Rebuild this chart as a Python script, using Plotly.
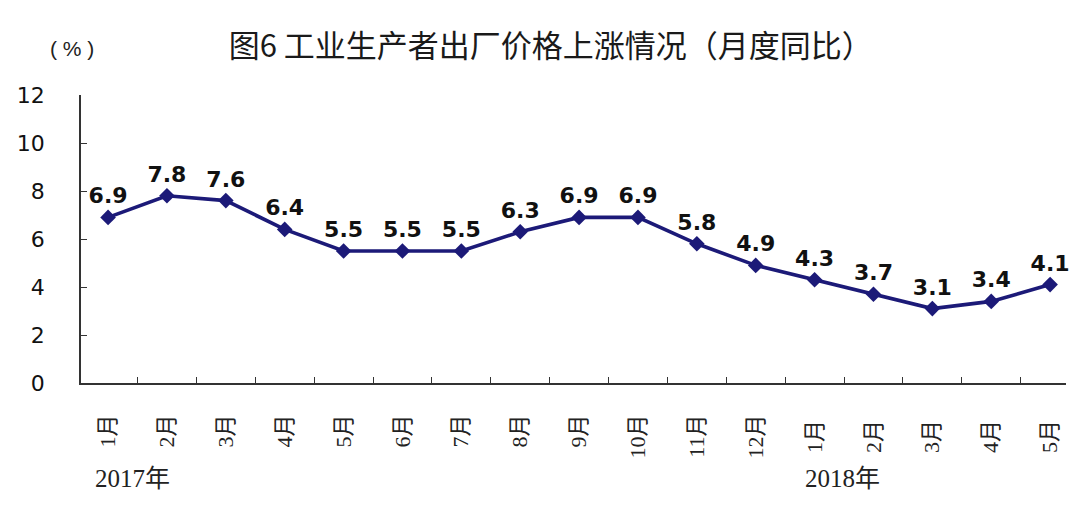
import plotly.graph_objects as go

months = ["1月", "2月", "3月", "4月", "5月", "6月", "7月", "8月", "9月", "10月",
          "11月", "12月", "1月 ", "2月 ", "3月 ", "4月 ", "5月 "]
values = [6.9, 7.8, 7.6, 6.4, 5.5, 5.5, 5.5, 6.3, 6.9, 6.9, 5.8, 4.9, 4.3, 3.7, 3.1, 3.4, 4.1]
value_labels = ["6.9", "7.8", "7.6", "6.4", "5.5", "5.5", "5.5", "6.3", "6.9", "6.9",
                "5.8", "4.9", "4.3", "3.7", "3.1", "3.4", "4.1"]
year_labels = ["2017年", "2018年"]
year_positions = [0.42, 12.48]
title_text = "图6 工业生产者出厂价格上涨情况（月度同比）"
unit_text = "( % )"
y_ticks = [0, 2, 4, 6, 8, 10, 12]

line_color = "#1c1a78"
serif = "Liberation Serif, Noto Sans CJK SC, serif"
cjk_sans = "Noto Sans CJK SC, sans-serif"
num_font = "DejaVu Sans, sans-serif"

fig = go.Figure()
fig.add_trace(go.Scatter(
    x=months, y=values, mode="lines+markers+text",
    text=value_labels, textposition="top center",
    textfont=dict(family=num_font, size=22, color="#111111", weight="bold"),
    line=dict(color=line_color, width=3.6),
    marker=dict(symbol="diamond", size=12, color=line_color),
    cliponaxis=False, showlegend=False,
))

for lab, pos in zip(year_labels, year_positions):
    fig.add_annotation(text=lab, x=pos, xref="x", y=-0.33, yref="paper",
                       yanchor="middle", xanchor="center", showarrow=False,
                       font=dict(family=serif, size=25, color="#222222"))

fig.add_annotation(text=unit_text, x=(72 - 81) / (1080 - 81 - 14), xref="paper",
                   y=1.16, yref="paper", yanchor="middle", xanchor="center",
                   showarrow=False,
                   font=dict(family="Liberation Sans, Arial, sans-serif", size=21,
                             color="#222222"))

fig.update_layout(
    width=1080, height=510,
    margin=dict(l=81, r=14, t=95, b=127),
    paper_bgcolor="white", plot_bgcolor="white",
    title=dict(text=title_text, x=0.51, xanchor="center", y=0.91, yanchor="middle",
               font=dict(family=cjk_sans, size=31, color="#1a1a1a")),
    xaxis=dict(
        type="category", range=[-0.46, 16.27],
        tickson="boundaries", ticks="inside", ticklen=6, tickcolor="#333333",
        showline=True, linecolor="#333333", linewidth=1.5,
        showgrid=False, zeroline=False, tickangle=-90,
        ticklabelstandoff=21,
        tickfont=dict(family=serif, size=22, color="#222222"),
    ),
    yaxis=dict(
        range=[0, 12], tickvals=y_ticks, ticks="inside", ticklen=6, tickcolor="#333333",
        showline=True, linecolor="#333333", linewidth=1.5,
        showgrid=False, zeroline=False, ticklabelstandoff=30,
        tickfont=dict(family=num_font, size=22, color="#111111"),
    ),
)

fig.write_html("out.html")
